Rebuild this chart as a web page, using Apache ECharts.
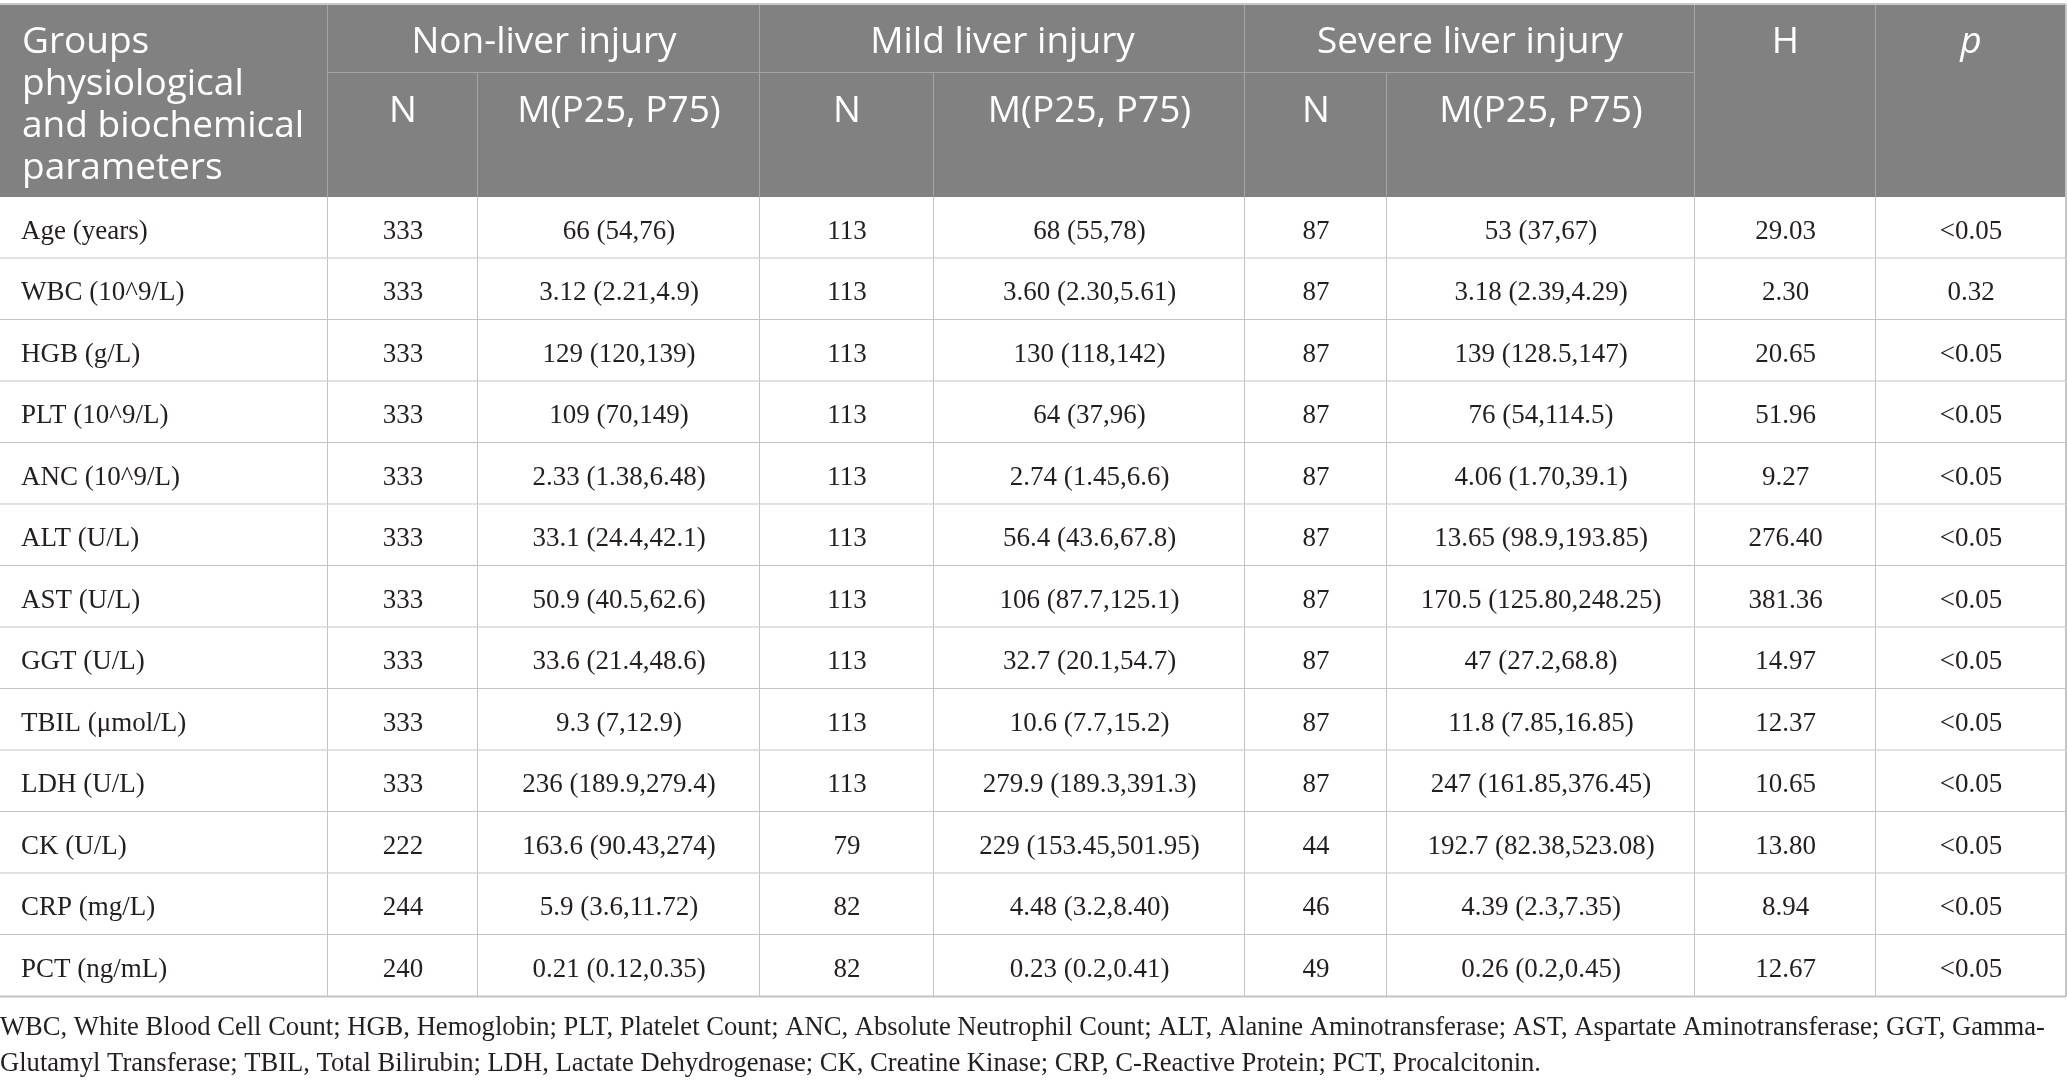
<!DOCTYPE html>
<html>
<head>
<meta charset="utf-8">
<title>Liver injury groups</title>
<script src="https://cdn.jsdelivr.net/npm/echarts@6/dist/echarts.min.js"></script>
<style>
    html, body { margin: 0; padding: 0; background: #fff; }
    #tableChart { width: 2067px; height: 1086px; }
</style>
</head>
<body>
<div id="tableChart"></div>
<script>
    // 表格数据
    var groupNames = ['Non-liver injury', 'Mild liver injury', 'Severe liver injury'];
    var subHeads = ['N', 'M(P25, P75)'];
    var firstHead = 'Groups\nphysiological\nand biochemical\nparameters';
    var statHeads = ['H', 'p'];

    var params = ['Age (years)', 'WBC (10^9/L)', 'HGB (g/L)', 'PLT (10^9/L)', 'ANC (10^9/L)', 'ALT (U/L)',
        'AST (U/L)', 'GGT (U/L)', 'TBIL (\u03bcmol/L)', 'LDH (U/L)', 'CK (U/L)', 'CRP (mg/L)', 'PCT (ng/mL)'];
    var nNon = [333, 333, 333, 333, 333, 333, 333, 333, 333, 333, 222, 244, 240];
    var mNon = ['66 (54,76)', '3.12 (2.21,4.9)', '129 (120,139)', '109 (70,149)', '2.33 (1.38,6.48)', '33.1 (24.4,42.1)',
        '50.9 (40.5,62.6)', '33.6 (21.4,48.6)', '9.3 (7,12.9)', '236 (189.9,279.4)', '163.6 (90.43,274)',
        '5.9 (3.6,11.72)', '0.21 (0.12,0.35)'];
    var nMild = [113, 113, 113, 113, 113, 113, 113, 113, 113, 113, 79, 82, 82];
    var mMild = ['68 (55,78)', '3.60 (2.30,5.61)', '130 (118,142)', '64 (37,96)', '2.74 (1.45,6.6)', '56.4 (43.6,67.8)',
        '106 (87.7,125.1)', '32.7 (20.1,54.7)', '10.6 (7.7,15.2)', '279.9 (189.3,391.3)', '229 (153.45,501.95)',
        '4.48 (3.2,8.40)', '0.23 (0.2,0.41)'];
    var nSev = [87, 87, 87, 87, 87, 87, 87, 87, 87, 87, 44, 46, 49];
    var mSev = ['53 (37,67)', '3.18 (2.39,4.29)', '139 (128.5,147)', '76 (54,114.5)', '4.06 (1.70,39.1)',
        '13.65 (98.9,193.85)', '170.5 (125.80,248.25)', '47 (27.2,68.8)', '11.8 (7.85,16.85)',
        '247 (161.85,376.45)', '192.7 (82.38,523.08)', '4.39 (2.3,7.35)', '0.26 (0.2,0.45)'];
    var hStat = [29.03, 2.30, 20.65, 51.96, 9.27, 276.40, 381.36, 14.97, 12.37, 10.65, 13.80, 8.94, 12.67];
    var pVal = ['<0.05', '0.32', '<0.05', '<0.05', '<0.05', '<0.05', '<0.05', '<0.05', '<0.05', '<0.05',
        '<0.05', '<0.05', '<0.05'];
    var footLines = [
        'WBC, White Blood Cell Count; HGB, Hemoglobin; PLT, Platelet Count; ANC, Absolute Neutrophil Count; ALT, Alanine Aminotransferase; AST, Aspartate Aminotransferase; GGT, Gamma-',
        'Glutamyl Transferase; TBIL, Total Bilirubin; LDH, Lactate Dehydrogenase; CK, Creatine Kinase; CRP, C-Reactive Protein; PCT, Procalcitonin.'
    ];

    // 版式（坐标轴单位）
    var colEdges = [0, 328, 478, 760, 934, 1245, 1387, 1695, 1876, 2066];
    var headTop = 4, headMid = 73, headBottom = 197, rowH = 61.5;

    var HEAD_BG = '#808180';
    var HEAD_LINE = '#a4a5a4';
    var BODY_LINE = '#c4c4c4';
    var TEXT_DARK = '#231f20';

    // 组装单元格
    var cells = [];
    function addCell(c0, c1, y0, y1, text, kind) {
        cells.push({c0: c0, c1: c1, y0: y0, y1: y1, text: String(text), kind: kind});
    }
    addCell(0, 1, headTop, headBottom, firstHead, 'headLeft');
    for (var g = 0; g < groupNames.length; g++) {
        addCell(1 + g * 2, 3 + g * 2, headTop, headMid, groupNames[g], 'group');
        addCell(1 + g * 2, 2 + g * 2, headMid, headBottom, subHeads[0], 'head');
        addCell(2 + g * 2, 3 + g * 2, headMid, headBottom, subHeads[1], 'head');
    }
    addCell(7, 8, headTop, headBottom, statHeads[0], 'head');
    addCell(8, 9, headTop, headBottom, statHeads[1], 'headItalic');

    for (var i = 0; i < params.length; i++) {
        var ry0 = headBottom + i * rowH, ry1 = ry0 + rowH;
        var vals = [nNon[i], mNon[i], nMild[i], mMild[i], nSev[i], mSev[i], hStat[i].toFixed(2), pVal[i]];
        addCell(0, 1, ry0, ry1, params[i], 'label');
        for (var k = 0; k < vals.length; k++) {
            addCell(k + 1, k + 2, ry0, ry1, vals[k], 'body');
        }
    }

    var cellData = cells.map(function (c) {
        return [colEdges[c.c0], colEdges[c.c1], c.y0, c.y1];
    });

    function renderCell(p, api) {
        var c = cells[p.dataIndex];
        var a = api.coord([api.value(0), api.value(2)]);
        var b = api.coord([api.value(1), api.value(3)]);
        var x0 = a[0], y0 = a[1], x1 = b[0], y1 = b[1];
        var isHead = c.kind !== 'body' && c.kind !== 'label';
        var lastCol = c.c1 === colEdges.length - 1;
        var children = [{
            type: 'rect',
            shape: {x: x0, y: y0, width: x1 - x0, height: y1 - y0},
            style: {fill: isHead ? HEAD_BG : '#fff'}
        }];
        children.push({
            type: 'line',
            shape: {x1: x1, y1: y0, x2: x1, y2: y1},
            style: {stroke: (isHead && !lastCol) ? HEAD_LINE : BODY_LINE, lineWidth: 2}
        });
        if (!isHead) {
            children.push({
                type: 'line',
                shape: {x1: x0, y1: y1, x2: x1, y2: y1},
                style: {stroke: BODY_LINE, lineWidth: 2}
            });
        } else if (c.kind === 'group') {
            children.push({
                type: 'line',
                shape: {x1: x0, y1: y1, x2: x1, y2: y1},
                style: {stroke: HEAD_LINE, lineWidth: 2}
            });
        }
        if (isHead && c.y0 === headTop) {
            children.push({
                type: 'line',
                shape: {x1: x0, y1: y0, x2: x1, y2: y0},
                style: {stroke: '#c8c8c8', lineWidth: 2}
            });
        }
        if (isHead) {
            children.push({
                type: 'text',
                style: {
                    text: c.text,
                    x: c.kind === 'headLeft' ? x0 + 22 : (x0 + x1) / 2,
                    y: y0 + 17,
                    align: c.kind === 'headLeft' ? 'left' : 'center',
                    verticalAlign: 'top',
                    fill: '#fff',
                    fontFamily: 'Open Sans',
                    fontSize: 37,
                    fontStyle: c.kind === 'headItalic' ? 'italic' : 'normal',
                    lineHeight: 42
                }
            });
        } else {
            children.push({
                type: 'text',
                style: {
                    text: c.text,
                    x: c.kind === 'label' ? x0 + 21 : (x0 + x1) / 2,
                    y: (y0 + y1) / 2 + 4,
                    align: c.kind === 'label' ? 'left' : 'center',
                    verticalAlign: 'middle',
                    fill: TEXT_DARK,
                    fontFamily: 'Liberation Serif',
                    fontSize: 27
                }
            });
        }
        return {type: 'group', children: children};
    }

    var myChart = echarts.init(document.getElementById('tableChart'));
    var option = {
        animation: false,
        backgroundColor: '#fff',
        title: {
            text: footLines.join('\n'),
            left: 0,
            top: 1010,
            padding: 0,
            textStyle: {
                fontFamily: 'Liberation Serif',
                fontSize: 26.6,
                fontWeight: 'normal',
                color: TEXT_DARK,
                lineHeight: 36
            }
        },
        grid: {left: 0, right: 0, top: 0, bottom: 0},
        xAxis: {type: 'value', min: 0, max: 2067, show: false},
        yAxis: {type: 'value', min: 0, max: 1086, inverse: true, show: false},
        series: [{
            type: 'custom',
            renderItem: renderCell,
            encode: {x: [0, 1], y: [2, 3]},
            data: cellData
        }]
    };
    myChart.setOption(option);
</script>
</body>
</html>
